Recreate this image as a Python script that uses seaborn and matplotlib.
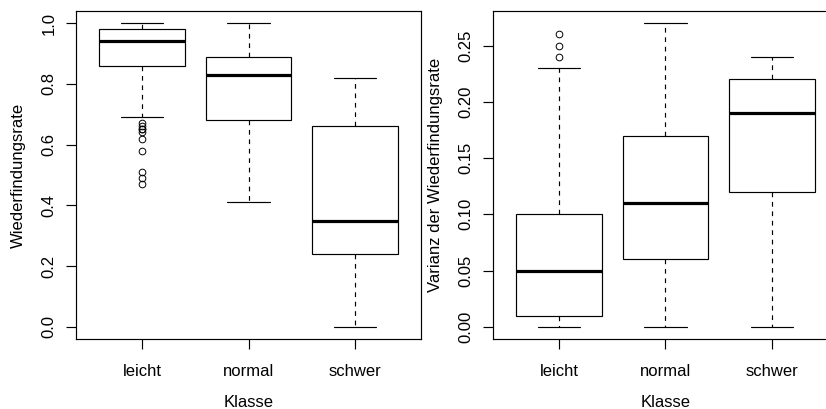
import matplotlib
matplotlib.use("Agg")
import matplotlib.pyplot as plt
import pandas as pd
import seaborn as sns

classes = ["leicht", "normal", "schwer"]

# Wiederfindungsrate per class: whisker ends, quartiles, median and outlying values
rate_whisker_low = [0.69, 0.41, 0.00]
rate_q1 = [0.86, 0.68, 0.24]
rate_median = [0.94, 0.83, 0.35]
rate_q3 = [0.98, 0.89, 0.66]
rate_whisker_high = [1.00, 1.00, 0.82]
rate_outliers = [[0.67, 0.66, 0.65, 0.65, 0.64, 0.62, 0.58, 0.51, 0.49, 0.47], [], []]

# Varianz der Wiederfindungsrate per class
var_whisker_low = [0.00, 0.00, 0.00]
var_q1 = [0.01, 0.06, 0.12]
var_median = [0.05, 0.11, 0.19]
var_q3 = [0.10, 0.17, 0.22]
var_whisker_high = [0.23, 0.27, 0.24]
var_outliers = [[0.24, 0.25, 0.26], [], []]

rate_ticks = [0.0, 0.2, 0.4, 0.6, 0.8, 1.0]
rate_tick_labels = ["0.0", "0.2", "0.4", "0.6", "0.8", "1.0"]
var_ticks = [0.00, 0.05, 0.10, 0.15, 0.20, 0.25]
var_tick_labels = ["0.00", "0.05", "0.10", "0.15", "0.20", "0.25"]


def summary_sample(lo, q1, med, q3, hi, outliers, weight=40):
    """Values whose quartiles, whisker ends and outliers equal the given summary."""
    return sorted(list(outliers) + [lo] + [q1] * weight + [med] * weight
                  + [q3] * weight + [hi])


def long_frame(lo, q1, med, q3, hi, out):
    rows = []
    for i, k in enumerate(classes):
        for v in summary_sample(lo[i], q1[i], med[i], q3[i], hi[i], out[i]):
            rows.append({"Klasse": k, "Wert": v})
    return pd.DataFrame(rows)


rate_df = long_frame(rate_whisker_low, rate_q1, rate_median, rate_q3,
                     rate_whisker_high, rate_outliers)
var_df = long_frame(var_whisker_low, var_q1, var_median, var_q3,
                    var_whisker_high, var_outliers)

sns.set_style("ticks")
plt.rcParams["font.family"] = ["Liberation Sans", "DejaVu Sans"]
plt.rcParams["font.size"] = 12
plt.rcParams["axes.labelcolor"] = "black"
plt.rcParams["text.color"] = "black"

W, H = 826, 409
fig = plt.figure(figsize=(W / 100, H / 100), dpi=100)
fig.patch.set_facecolor("white")

ax_l = fig.add_axes([76 / W, (H - 339) / H, 345 / W, 328 / H])
ax_r = fig.add_axes([493 / W, (H - 339) / H, 345 / W, 328 / H])


def draw(ax, df, ylabel, ylim, ticks, labels):
    sns.boxplot(
        data=df, x="Klasse", y="Wert", order=classes, ax=ax,
        color="white", linecolor="black", linewidth=0.85, width=0.8,
        whis=1.5, fliersize=4.8,
        medianprops=dict(color="black", linewidth=2.3),
        whiskerprops=dict(linestyle=(0, (4, 4))),
        flierprops=dict(marker="o", markerfacecolor="none",
                        markeredgecolor="black", markeredgewidth=0.7),
    )
    ax.set_xlim(-0.62, 2.62)
    ax.set_ylim(*ylim)
    ax.set_yticks(ticks, labels, rotation=90, va="center")
    ax.set_xticks(range(len(classes)), classes)
    ax.tick_params(axis="both", direction="out", length=7.2, width=0.85,
                   color="black", labelsize=12, labelcolor="black")
    ax.tick_params(axis="x", pad=11.0)
    ax.tick_params(axis="y", pad=7.0)
    for s in ax.spines.values():
        s.set_visible(True)
        s.set_color("black")
        s.set_linewidth(0.85)
    ax.set_xlabel("Klasse", fontsize=12, color="black")
    ax.set_ylabel(ylabel, fontsize=12, color="black")
    ax.xaxis.set_label_coords(0.5, (339 - 407) / 328)
    ax.xaxis.label.set_va("baseline")
    ax.yaxis.set_label_coords(-0.1667, 0.5)
    ax.yaxis.label.set_va("center")
    ax.grid(False)
    ax.set_facecolor("white")


draw(ax_l, rate_df, "Wiederfindungsrate", (-0.04, 1.04), rate_ticks, rate_tick_labels)
draw(ax_r, var_df, "Varianz der Wiederfindungsrate", (-0.0108, 0.2808),
     var_ticks, var_tick_labels)

fig.savefig("out.png", dpi=100, facecolor="white")
